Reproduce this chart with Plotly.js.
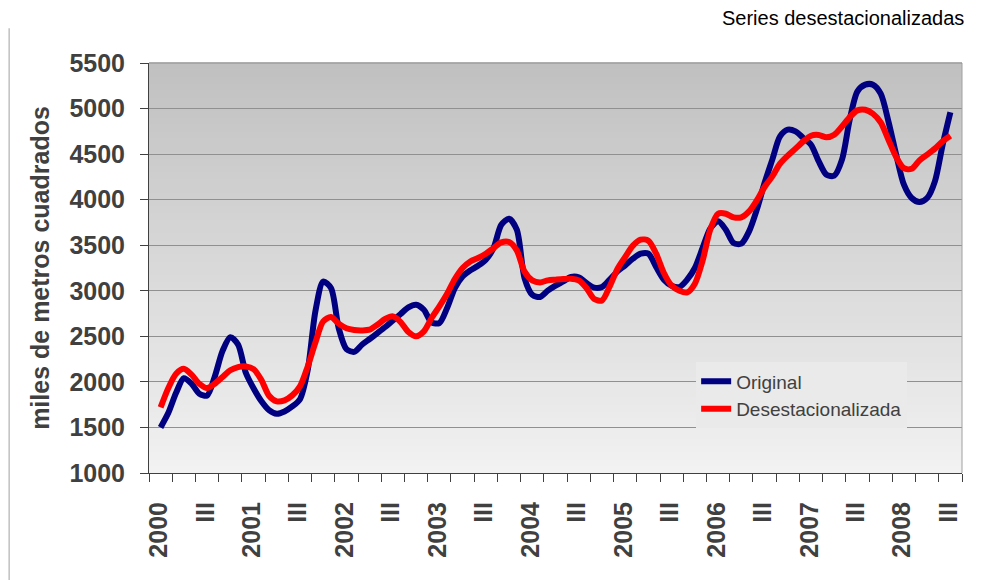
<!DOCTYPE html>
<html>
<head>
<meta charset="utf-8">
<script src="https://cdn.plot.ly/plotly-3.0.1.min.js"></script>
<style>html,body{margin:0;padding:0;background:#fff;}#chart{width:983px;height:580px;}</style>
</head>
<body>
<div id="chart"></div>
<script>
// Monthly series (3-month centred), Feb 2000 .. Aug 2008
const firstMonthIndex = 1; // months since Jan 2000 (1 = Feb 2000)
const original = [
  1500,1660,1880,2040,1980,1870,1850,2060,2340,2490,
  2410,2100,1930,1790,1690,1650,1675,1730,1810,2130,
  2780,3100,3030,2590,2360,2330,2408,2471,2536,2602,
  2675,2745,2818,2847,2792,2653,2646,2811,3030,3158,
  3224,3275,3341,3469,3725,3790,3670,3140,2957,2932,
  3001,3056,3103,3151,3147,3085,3034,3041,3122,3213,
  3279,3352,3407,3407,3261,3122,3056,3041,3122,3250,
  3470,3685,3762,3670,3524,3517,3652,3890,4183,4439,
  4694,4768,4749,4677,4603,4420,4274,4263,4439,4878,
  5188,5262,5262,5163,4859,4494,4164,4018,3974,4018,
  4201,4603,4960
];
const desestacionalizada = [
  1720,1933,2090,2145,2079,1980,1933,1980,2054,2127,
  2163,2170,2141,2024,1848,1786,1797,1852,1951,2170,
  2434,2664,2712,2639,2588,2569,2565,2573,2628,2690,
  2719,2657,2548,2500,2554,2701,2829,2968,3129,3250,
  3322,3360,3407,3469,3531,3535,3443,3210,3114,3092,
  3114,3122,3129,3133,3114,3030,2910,2894,3048,3239,
  3371,3495,3561,3550,3407,3195,3056,3001,2982,3078,
  3330,3675,3846,3846,3806,3806,3871,3992,4139,4255,
  4395,4483,4560,4640,4702,4710,4684,4713,4804,4907,
  4980,4987,4943,4848,4658,4468,4345,4340,4431,4494,
  4560,4640,4702
];
// one label per quarter boundary (35 quarters, Q1 2000 .. Q3 2008, plus closing tick)
const quarterLabels = [
  '2000','','III','', '2001','','III','', '2002','','III','', '2003','','III','',
  '2004','','III','', '2005','','III','', '2006','','III','', '2007','','III','',
  '2008','','III',''
];
const seriesNames = ['Original', 'Desestacionalizada'];
const seriesColors = ['#000080', '#ff0000'];
const yTitle = 'miles de metros cuadrados';
const chartNote = 'Series desestacionalizadas';

const xMonths = original.map((_, i) => firstMonthIndex + i + 0.5);
const quarterTickVals = quarterLabels.map((_, i) => i * 3);
const totalMonths = (quarterLabels.length - 1) * 3;

const traces = [
  {x: xMonths, y: original, name: seriesNames[0], type: 'scatter', mode: 'lines',
   line: {color: seriesColors[0], width: 6, shape: 'spline', smoothing: 0.8}},
  {x: xMonths, y: desestacionalizada, name: seriesNames[1], type: 'scatter', mode: 'lines',
   line: {color: seriesColors[1], width: 6, shape: 'spline', smoothing: 0.8}}
];

// gradient plot background
const shapes = [];
const N = 60;
for (let k = 0; k < N; k++) {
  const t = (k + 0.5) / N; // 0 bottom .. 1 top
  const c = Math.round(242 - t * 50);
  shapes.push({type: 'rect', xref: 'paper', yref: 'paper', x0: 0, x1: 1,
    y0: k / N, y1: (k + 1) / N + 0.002, fillcolor: `rgb(${c},${c},${c})`,
    line: {width: 0}, layer: 'below'});
}
shapes.push({type: 'line', xref: 'paper', yref: 'paper', x0: 1, x1: 1, y0: 0, y1: 1,
  line: {color: '#a0a0a0', width: 1}});
shapes.push({type: 'line', xref: 'paper', yref: 'paper', x0: 0, x1: 1, y0: 1, y1: 1,
  line: {color: '#8c8c8c', width: 1}});
shapes.push({type: 'line', xref: 'paper', yref: 'paper', x0: -0.172, x1: -0.172, y0: 1.085, y1: -0.3,
  line: {color: '#c0c0c0', width: 1.5}});

const tickFont = {family: 'Liberation Sans, Arial, sans-serif', size: 25, color: '#404040', weight: 700};

const layout = {
  width: 983, height: 580,
  margin: {l: 149, r: 21, t: 63, b: 107},
  paper_bgcolor: '#ffffff',
  plot_bgcolor: '#e0e0e0',
  font: {family: 'Liberation Sans, Arial, sans-serif', color: '#404040'},
  showlegend: true,
  legend: {x: 0.673, y: 0.27, xanchor: 'left', yanchor: 'top',
    bgcolor: 'rgb(234,234,234)', borderwidth: 0,
    font: {family: 'Liberation Sans, Arial, sans-serif', size: 19, color: '#404040'},
    tracegroupgap: 0},
  xaxis: {
    range: [0, totalMonths], tickmode: 'array', tickvals: quarterTickVals, ticktext: quarterLabels,
    tickangle: -90, ticks: 'outside', ticklen: 8, tickwidth: 1, tickcolor: '#404040',
    ticklabelshift: 10, ticklabelstandoff: 10,
    showline: true, linecolor: '#404040', linewidth: 1,
    showgrid: false, zeroline: false, tickfont: tickFont, fixedrange: true
  },
  yaxis: {
    range: [1000, 5500], tick0: 1000, dtick: 500, tickmode: 'linear',
    ticks: 'outside', ticklen: 8, tickwidth: 1, tickcolor: '#404040',
    ticklabelstandoff: 10,
    showline: true, linecolor: '#404040', linewidth: 1,
    showgrid: true, gridcolor: '#909090', gridwidth: 1, zeroline: false,
    tickfont: tickFont,
    title: {text: yTitle, standoff: 12,
      font: {family: 'Liberation Sans, Arial, sans-serif', size: 25, color: '#404040', weight: 700}},
    fixedrange: true
  },
  shapes: shapes,
  annotations: [{text: chartNote, xref: 'paper', yref: 'paper', x: 1.005, y: 1.11,
    xanchor: 'right', yanchor: 'middle', showarrow: false,
    font: {family: 'Liberation Sans, Arial, sans-serif', size: 20, color: '#000000'}}]
};

Plotly.newPlot('chart', traces, layout, {displayModeBar: false, staticPlot: true});
</script>
</body>
</html>
